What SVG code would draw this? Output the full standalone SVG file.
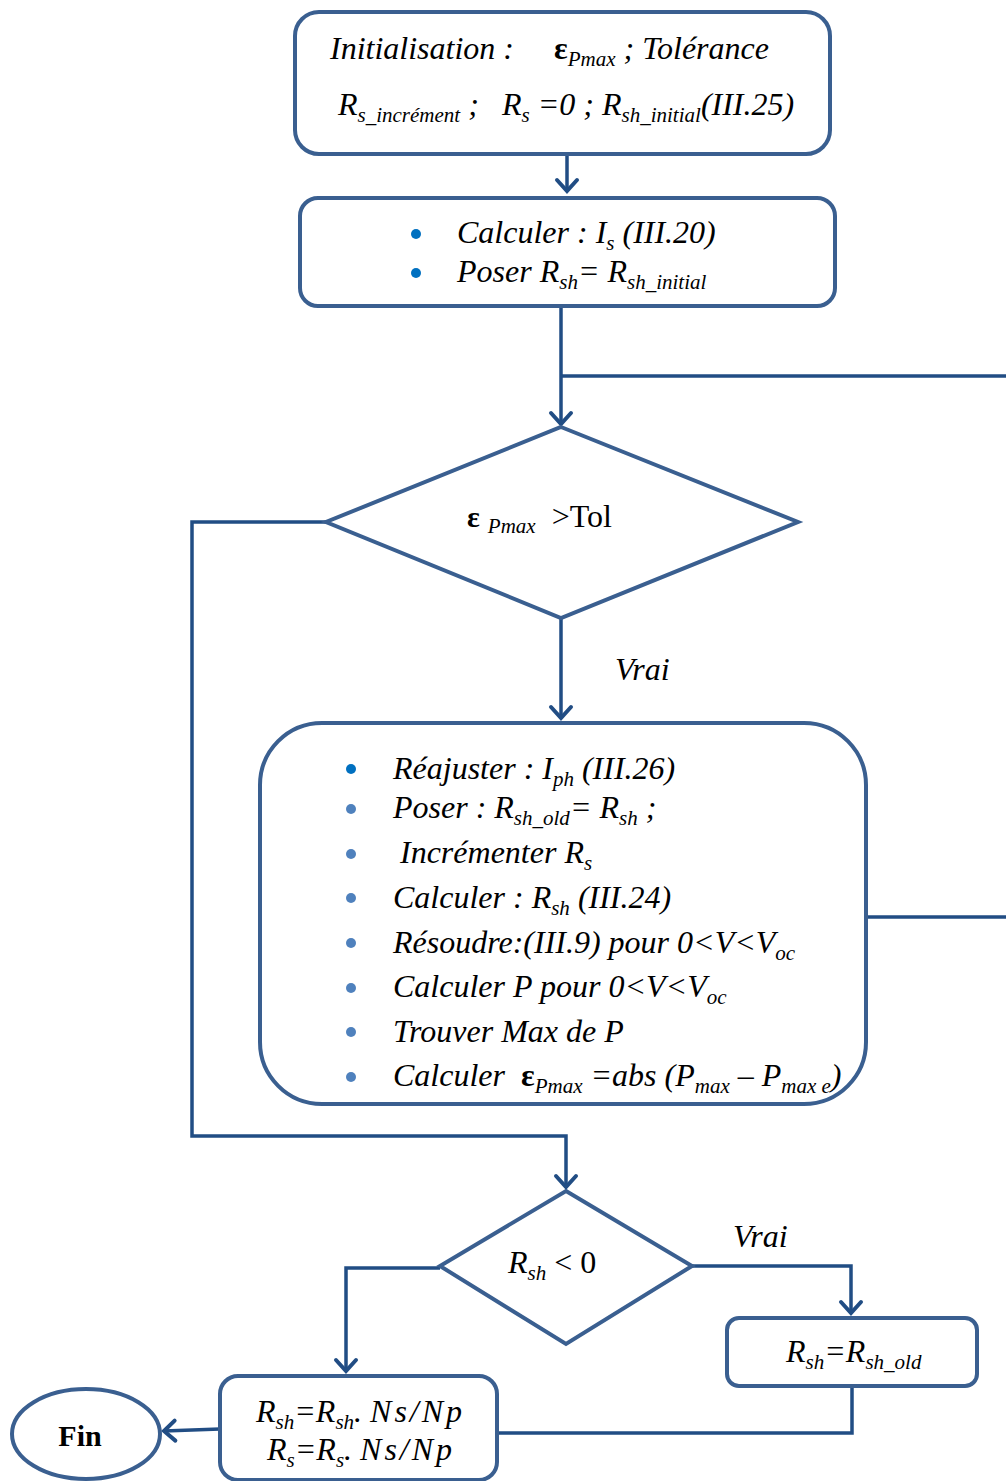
<svg xmlns="http://www.w3.org/2000/svg" width="1006" height="1481" viewBox="0 0 1006 1481" font-family="Liberation Serif, Times New Roman, serif">
<style>
.node{fill:#fff;stroke:#3A5F90;stroke-width:4}
.con{fill:none;stroke:#214D84;stroke-width:3.5;stroke-linejoin:miter}
.t{font-style:italic;font-size:32px;fill:#000}
.s{font-size:21px}
.b{font-style:normal;font-weight:bold}
.n{font-style:normal}
.b1{fill:#0070C0}
.b2{fill:#4F81BD}
</style>
<defs>
<marker id="ah" markerUnits="userSpaceOnUse" markerWidth="30" markerHeight="30" viewBox="-15 -15 30 30" refX="0" refY="0" orient="auto">
<path d="M-11,-10 L0,0 L-11,10" fill="none" stroke="#214D84" stroke-width="4" stroke-linecap="round" stroke-linejoin="miter"/>
</marker>
</defs>

<g id="connectors">
<path class="con" d="M567,155 V191" marker-end="url(#ah)"/>
<path class="con" d="M561,307 V424" marker-end="url(#ah)"/>
<path class="con" d="M561,376 H1006"/>
<path class="con" d="M561,619 V718" marker-end="url(#ah)"/>
<path class="con" d="M866,917 H1006"/>
<path class="con" d="M326,522 H192 V1136 H566 V1187" marker-end="url(#ah)"/>
<path class="con" d="M692,1266 H851 V1313" marker-end="url(#ah)"/>
<path class="con" d="M440,1268 H346 V1371" marker-end="url(#ah)"/>
<path class="con" d="M852,1387 V1433 H497"/>
<path class="con" d="M220,1429 L164,1431" marker-end="url(#ah)"/>
</g>

<g id="init">
<rect class="node" x="295" y="12" width="535" height="142" rx="24"/>
<text class="t" x="330" y="59">Initialisation :</text>
<text class="t" x="554" y="59"><tspan class="b">ε</tspan><tspan class="s" dy="7">Pmax</tspan><tspan dy="-7"> ; Tolérance</tspan></text>
<text class="t" x="338" y="115">R<tspan class="s" dy="7">s_incrément</tspan><tspan dy="-7"> ;</tspan><tspan x="502">R</tspan><tspan class="s" dy="7">s</tspan><tspan dy="-7"> =0 ; R</tspan><tspan class="s" dy="7">sh_initial</tspan><tspan dy="-7">(III.25)</tspan></text>
</g>

<g id="calc1">
<rect class="node" x="300" y="198" width="535" height="108" rx="18"/>
<circle class="b1" cx="416" cy="234" r="5"/>
<circle class="b1" cx="416" cy="273" r="5"/>
<text class="t" x="457" y="243">Calculer : I<tspan class="s" dy="7">s</tspan><tspan dy="-7"> (III.20)</tspan></text>
<text class="t" x="457" y="282">Poser R<tspan class="s" dy="7">sh</tspan><tspan dy="-7">= R</tspan><tspan class="s" dy="7">sh_initial</tspan></text>
</g>

<g id="cond1">
<polygon class="node" points="561,427 798,522 561,618 326,522"/>
<text class="t" x="467" y="527"><tspan class="b" font-size="30">ε</tspan><tspan class="s" dx="8" dy="6">Pmax</tspan><tspan class="n" dx="16" dy="-6" font-size="32">&gt;Tol</tspan></text>
</g>

<text id="vrai1" class="t" x="615" y="680">Vrai</text>

<g id="loop">
<rect class="node" x="260" y="723" width="606" height="381" rx="62"/>
<circle class="b1" cx="351" cy="769" r="5"/>
<circle class="b2" cx="351" cy="809" r="5"/>
<circle class="b2" cx="351" cy="854" r="5"/>
<circle class="b2" cx="351" cy="898" r="5"/>
<circle class="b2" cx="351" cy="943" r="5"/>
<circle class="b2" cx="351" cy="988" r="5"/>
<circle class="b2" cx="351" cy="1032" r="5"/>
<circle class="b2" cx="351" cy="1077" r="5"/>
<text class="t" x="393" y="779">Réajuster : I<tspan class="s" dy="7">ph</tspan><tspan dy="-7"> (III.26)</tspan></text>
<text class="t" x="393" y="818">Poser : R<tspan class="s" dy="7">sh_old</tspan><tspan dy="-7">= R</tspan><tspan class="s" dy="7">sh</tspan><tspan dy="-7"> ;</tspan></text>
<text class="t" x="400" y="863">Incrémenter R<tspan class="s" dy="7">s</tspan></text>
<text class="t" x="393" y="908">Calculer : R<tspan class="s" dy="7">sh</tspan><tspan dy="-7">  (III.24)</tspan></text>
<text class="t" x="393" y="953">Résoudre:(III.9) pour 0&lt;V&lt;V<tspan class="s" dy="7">oc</tspan></text>
<text class="t" x="393" y="997">Calculer P pour 0&lt;V&lt;V<tspan class="s" dy="7">oc</tspan></text>
<text class="t" x="393" y="1042">Trouver Max de P</text>
<text class="t" x="393" y="1086">Calculer<tspan class="b" x="521">ε</tspan><tspan class="s" dy="7">Pmax</tspan><tspan dy="-7"> =abs (P</tspan><tspan class="s" dy="7">max</tspan><tspan dy="-7"> – P</tspan><tspan class="s" dy="7">max e</tspan><tspan dy="-7">)</tspan></text>
</g>

<g id="cond2">
<polygon class="node" points="566,1191 692,1266 566,1344 440,1266"/>
<text class="t" x="508" y="1273">R<tspan class="s" dy="7">sh</tspan><tspan class="n" dy="-7"> &lt; 0</tspan></text>
</g>

<text id="vrai2" class="t" x="733" y="1247">Vrai</text>

<g id="restore">
<rect class="node" x="727" y="1318" width="250" height="68" rx="12"/>
<text class="t" x="786" y="1362">R<tspan class="s" dy="7">sh</tspan><tspan dy="-7">=R</tspan><tspan class="s" dy="7">sh_old</tspan></text>
</g>

<g id="scale">
<rect class="node" x="220" y="1376" width="277" height="104" rx="18"/>
<text class="t" x="256" y="1422">R<tspan class="s" dy="7">sh</tspan><tspan dy="-7">=R</tspan><tspan class="s" dy="7">sh</tspan><tspan dy="-7">. </tspan><tspan letter-spacing="3">Ns/Np</tspan></text>
<text class="t" x="267" y="1460">R<tspan class="s" dy="7">s</tspan><tspan dy="-7">=R</tspan><tspan class="s" dy="7">s</tspan><tspan dy="-7">. </tspan><tspan letter-spacing="3">Ns/Np</tspan></text>
</g>

<g id="fin">
<ellipse class="node" cx="86" cy="1434" rx="74" ry="45"/>
<text x="80" y="1446" text-anchor="middle" font-weight="bold" font-size="30">Fin</text>
</g>
</svg>
